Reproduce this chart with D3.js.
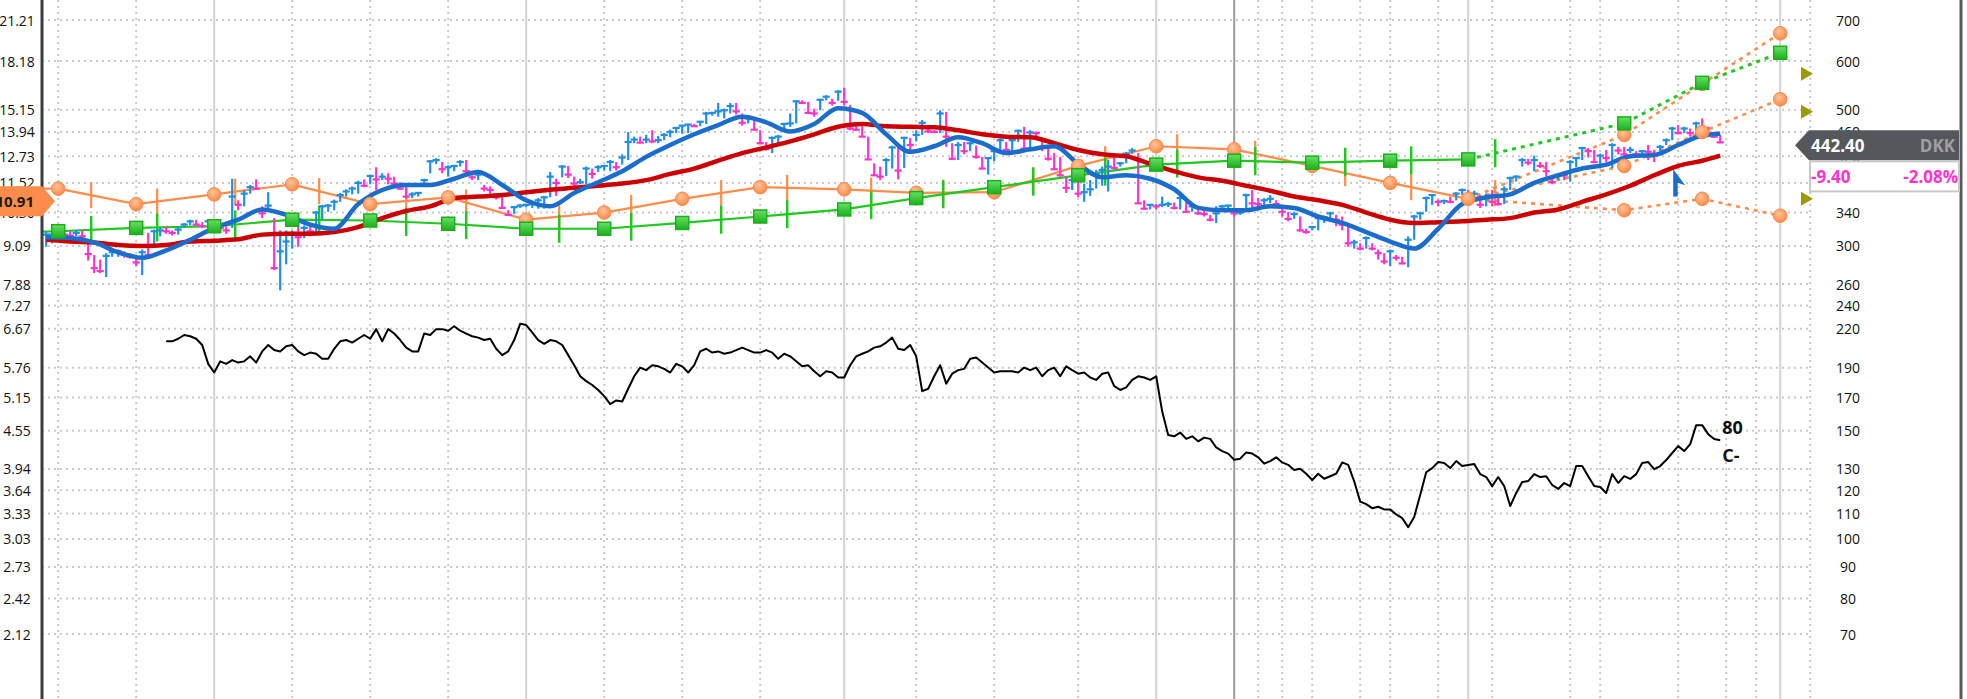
<!DOCTYPE html>
<html>
<head>
<meta charset="utf-8">
<script src="https://cdn.jsdelivr.net/npm/d3@7"></script>
<style>
  body { margin: 0; background: #fff; }
  svg { display: block; font-family: "Open Sans", "Noto Sans", sans-serif; }
</style>
</head>
<body>
<div id="chart"></div>
<script>
// weekly price chart, log scale, DKK on the right / USD on the left

const WIDTH = 1967;
const HEIGHT = 699;
const PLOT = {left: 42, right: 1812, top: 20, bottom: 634};
const WEEK_DOMAIN = [-28.7, 266.3];   // week 0 = first year line

const BLUE = "#1e8ee6", MAGENTA = "#ff33cc";
const MA_BLUE = "#1a6dcc", MA_RED = "#cc0000";
const ORANGE = "#ff8c4a", GREEN = "#1ec81e";

// ---- axis ticks ----
const rightTicks = [700, 600, 500, 460, 420, 380, 340, 300, 260, 240, 220, 190, 170, 150, 130, 120, 110, 100, 90, 80, 70];
const leftTicks = ["21.21", "18.18", "15.15", "13.94", "12.73", "11.52", "10.30", "9.09", "7.88", "7.27", "6.67",
                   "5.76", "5.15", "4.55", "3.94", "3.64", "3.33", "3.03", "2.73", "2.42", "2.12"];

// ---- time grid (week numbers) ----
const yearWeeks = [0, 52, 105, 157, 209, 261];
const dividerWeek = 170;
const minorWeeks = [-26, -13, 13, 26, 39, 65, 78, 91, 117, 130, 144, 174, 178, 183, 191, 196, 204, 213, 226, 231, 244, 252, 257, 266];

// ---- weekly bars: [low, high, close], first bar at week -28 ----
const firstBarWeek = -28;
const weeklyBars = [
  [299,316,313],[303,315,313],[309,317,314],[311,316,313],[309,317,312],[311,318,315],[307,318,311],[284,303,291],
  [271,290,276],[271,285,273],[267,292,289],[288,295,293],[288,296,294],[287,294,290],[286,292,288],[278,288,282],
  [269,296,293],[287,315,290],[299,319,317],[311,321,318],[314,323,317],[312,318,315],[313,323,319],[321,327,325],
  [324,331,329],[323,331,325],[321,328,323],[318,331,329],[319,331,330],[317,327,321],[314,323,318],[321,386,361],
  [343,356,350],[348,370,365],[365,377,374],[370,385,372],[333,348,339],[343,367,349],[274,333,276],[254,318,294],
  [280,318,305],[297,318,315],[299,323,310],[309,324,321],[311,327,317],[314,342,340],[331,350,348],[341,351,349],
  [343,357,354],[354,366,363],[361,371,368],[364,375,372],[365,383,380],[374,385,376],[378,391,390],[370,403,385],
  [384,394,389],[378,394,386],[376,389,379],[370,381,372],[358,376,361],[359,367,364],[361,367,366],[375,386,384],
  [394,414,412],[408,417,414],[394,411,400],[389,406,403],[397,406,405],[404,414,411],[389,414,397],[384,391,388],
  [384,399,392],[368,377,372],[365,375,370],[357,365,360],[345,361,346],[336,343,337],[338,348,347],[346,351,349],
  [347,351,350],[346,352,351],[345,359,356],[345,362,360],[360,396,389],[362,386,380],[388,406,404],[387,405,392],
  [376,389,379],[378,386,381],[378,404,401],[386,401,393],[396,406,403],[398,406,405],[397,414,411],[398,411,403],
  [407,423,418],[414,460,443],[441,452,447],[441,452,442],[441,455,447],[441,463,444],[441,453,446],[446,458,455],
  [451,464,460],[458,467,467],[457,472,471],[458,474,473],[469,474,470],[470,479,478],[474,496,493],[489,496,494],
  [487,513,497],[484,502,499],[493,513,507],[491,513,497],[471,493,476],[475,490,484],[463,482,464],[441,463,441],
  [429,443,432],[425,452,450],[441,455,452],[462,476,474],[469,493,475],[475,518,516],[512,518,513],[493,515,494],
  [487,502,493],[499,521,519],[518,528,525],[508,521,513],[517,538,535],[508,543,515],[463,509,466],[462,471,464],
  [452,470,452],[415,452,415],[390,409,391],[384,404,389],[390,417,414],[401,437,434],[385,440,398],[402,451,450],
  [428,450,438],[444,463,455],[455,481,476],[458,465,461],[458,463,460],[458,499,493],[435,496,452],[414,441,416],
  [414,443,438],[423,443,428],[428,443,441],[416,437,419],[400,419,401],[392,418,417],[412,430,428],[425,449,446],
  [423,443,430],[423,448,446],[443,464,462],[428,469,432],[428,463,459],[452,461,458],[428,446,435],[413,435,416],
  [399,425,400],[389,419,391],[366,389,373],[370,389,384],[360,384,365],[354,379,367],[362,384,371],[372,399,393],
  [376,404,399],[368,414,404],[399,419,402],[404,411,409],[409,427,424],[424,433,429],[352,425,352],[344,356,345],
  [344,350,350],[344,351,348],[347,361,350],[347,354,351],[344,353,346],[344,363,359],[340,358,341],[341,349,348],
  [337,343,339],[335,343,338],[329,337,331],[327,348,339],[343,350,348],[344,350,349],[335,345,339],[337,343,340],
  [343,365,363],[344,370,352],[347,359,351],[347,359,356],[352,363,358],[346,356,351],[335,348,341],[329,341,332],
  [332,341,338],[317,335,318],[314,320,316],[318,323,322],[318,335,333],[327,336,334],[329,341,339],[323,337,331],
  [318,335,325],[299,323,303],[297,307,304],[295,303,297],[297,311,309],[295,303,297],[285,296,292],[280,292,283],
  [278,296,294],[284,290,287],[280,288,281],[277,311,307],[307,337,335],[331,341,339],[341,361,359],[350,364,363],
  [348,357,354],[351,357,355],[352,361,354],[356,367,365],[363,372,370],[359,370,363],[356,369,365],[346,363,350],
  [348,365,359],[348,370,354],[349,363,351],[351,375,371],[370,389,387],[382,391,389],[404,417,414],[406,416,410],
  [397,421,414],[402,411,405],[389,411,397],[378,389,381],[384,394,392],[384,392,391],[382,414,411],[403,419,417],
  [414,435,433],[418,433,428],[409,430,411],[408,424,421],[411,430,417],[402,441,438],[423,435,429],[412,435,423],
  [425,435,430],[418,428,423],[419,430,428],[414,438,427],[411,430,421],[428,438,435],[438,449,446],[446,469,466],
  [456,472,458],[458,469,466],[452,466,458],[461,478,475],[458,484,466],[451,469,455],[450,458,451.8],[441,455,442.4]
];

// ---- moving averages, read every 4th week from week -28, last at week 251 ----
const maWeeks = d3.range(-28, 249, 4).concat([251]);
const maShort = [310,309,304,293,287,295,307,321,331,344,337,325,320,351,370,377,377,386,396,377,
                 356,348,366,381,397,419,438,456,472,487,477,461,474,503,494,456,427,436,451,441,
                 425,431,436,408,388,391,386,371,346,343,343,348,346,335,327,316,305,297,320,351,
                 360,364,380,391,401,407,420,422,438,454,457];
const maLong = [307,305,304,301,300,301,305,306,307.5,313,314,314,316,322,333,342,348,359,361,363,
                367,370.5,373,376,379,384,393,401,413,425,434,444,456,469,474,470,469,468,463,456,
                452,451,441,430,423,420,408,397,388,383,376,369,361,356,350,340,331,327,328,329,
                331,333,340,344,354,364,376,391,405,413,421];

// ---- quarterly estimate series ----
const quarterWeeks = [-39, -26, -13, 0, 13, 26, 39, 52, 65, 78, 91, 105, 117, 130, 144, 157, 170, 183, 196, 209];
const orangeVals = [372, 372, 351, 364, 378, 351, 360, 331, 340, 358, 374, 371, 366, 367, 405, 436, 431, 405, 380, 358];
const greenVals  = [315, 317, 321, 323, 331, 330, 326, 320, 320, 327, 335, 344, 359, 374, 391, 407, 413, 410, 413, 415];
const forecastWeeks = [209, 235, 248, 261];
const orangeHigh = [358, 455, 551, 666];
const orangeMean = [358, 405, 460, 520];
const orangeLow  = [358, 343, 358, 336];
const greenForecast = [415, 475, 553, 619];
const reportWeeks = [-20.5, -9.5, 3.5, 17.5, 32, 42, 57.5, 69.5, 84.5, 95.5, 109.5, 121.5, 136.5, 148.5, 160.5, 173.5, 188.5, 199.5, 213.5];
const targetPrices = [572, 496, 358];

// ---- relative strength line, weekly from week -8 ----
const rsStartWeek = -8;
const rsLine = [
  209.8,209.8,211.8,214.8,213.8,211.8,206.9,192.8,
  186.6,194.6,192.8,195.5,193.7,194.6,198.3,193.7,202,206.9,
  203,202,205.9,206.9,202,199.2,201.1,200.2,196.5,196.5,
  204,209.8,210.8,208.8,211.8,214.8,211.8,219.6,209.8,219.6,
  216,210.8,204.9,202,202,216,214.8,219.6,219.6,218.3,
  222,218.3,216,213.8,212.7,210.8,211.8,204,199.2,202,
  210.8,224,223,217,210.8,207.8,210.8,209.8,206.9,199.2,
  191.8,184,180.7,178.1,174.8,170.8,165.8,168.1,167.4,175.6,
  184,190.1,188.3,191.8,191,189.2,186.6,192.8,191,186.6,
  191.8,202,204,201.1,202,200.2,201.1,203,204.9,203,
  201.1,201.1,203,201.1,196.5,200.2,198.3,194.6,191,191.8,
  187.5,184,187.5,186.6,183.2,183.2,191.8,198.3,200.2,202,
  204.9,205.9,208.8,212.7,204,203,206.9,198.3,174,175.6,
  184,191.8,179,185.8,188.3,189.2,196.5,197.4,193.7,190.1,
  186.6,187.5,187.5,187.5,186.6,190.1,188.3,190.1,184,188.3,
  190.1,184,191,188.3,185.8,186.6,183.2,181.5,185.8,186.6,
  177.3,174.8,176.5,181.5,184,183.2,181.5,184,161.2,147.6,
  146.9,149,145.5,146.9,144.2,146.2,145.5,140.9,139,137.7,
  134.5,135.1,138.3,137.7,135.8,132.6,133.9,135.8,133.2,132,
  129.5,130.1,127.7,124.7,127.7,125.3,126.5,127.7,133.2,132,
  124.1,115,113.9,112.2,112.8,111.7,111.7,109.6,108.1,104.5,
  108.6,117.9,128.4,130.4,133.4,132.9,130.4,133.9,131.4,131.9,
  132.4,127.5,126.1,121.9,126.1,121.9,113.1,118.8,123.8,124.2,
  127.5,126.1,126.5,122.4,120.6,123.3,121.9,131.4,131.4,126.5,
  121.9,121.5,118.8,127.5,123.3,126.5,125.2,127.5,132.9,133.4,
  129.9,131.4,134.4,138,141.6,139,142.7,153.2,153.2,148.1,
  145.4,144.8
];
const rsRating = "80";
const adRating = "C-";

// ---- annotations ----
const arrowWeek = 243.5, arrowBase = 361, arrowTop = 400;
const leftTagValue = 360;
const USD_PER = 33;      // DKK per left-axis unit
const currency = "DKK";

// ---------------------------------------------------------------

const svg = d3.select("#chart")
  .append("svg")
    .attr("width", WIDTH)
    .attr("height", HEIGHT);

const x = d3.scaleLinear().domain(WEEK_DOMAIN).range([PLOT.left, PLOT.right]);
const y = d3.scaleLog().domain([700, 70]).range([PLOT.top, PLOT.bottom]);

const defs = svg.append("defs");
defs.append("clipPath").attr("id", "plotclip")
  .append("rect").attr("x", PLOT.left).attr("y", 0).attr("width", PLOT.right - PLOT.left).attr("height", HEIGHT);
const rg = defs.append("radialGradient").attr("id", "dot").attr("cx", "40%").attr("cy", "35%").attr("r", "65%");
rg.append("stop").attr("offset", "0%").attr("stop-color", "#ffc39a");
rg.append("stop").attr("offset", "100%").attr("stop-color", "#ff8a48");
const lg = defs.append("linearGradient").attr("id", "sq").attr("x1", 0).attr("y1", 0).attr("x2", 0).attr("y2", 1);
lg.append("stop").attr("offset", "0%").attr("stop-color", "#66e066");
lg.append("stop").attr("offset", "100%").attr("stop-color", "#1fae1f");

// grid
const grid = svg.append("g");
grid.selectAll(".h").data(rightTicks).enter().append("line")
  .attr("x1", PLOT.left).attr("x2", PLOT.right)
  .attr("y1", d => y(d)).attr("y2", d => y(d))
  .attr("stroke", "#c9c9c9").attr("stroke-width", 2).attr("stroke-dasharray", "2,4");
grid.selectAll(".v").data(minorWeeks).enter().append("line")
  .attr("x1", d => x(d)).attr("x2", d => x(d))
  .attr("y1", 0).attr("y2", HEIGHT)
  .attr("stroke", "#c9c9c9").attr("stroke-width", 2).attr("stroke-dasharray", "2,4");
grid.selectAll(".yr").data(yearWeeks).enter().append("line")
  .attr("x1", d => x(d)).attr("x2", d => x(d))
  .attr("y1", 0).attr("y2", HEIGHT)
  .attr("stroke", "#d3d3d3").attr("stroke-width", 2);
grid.append("line")
  .attr("x1", x(dividerWeek)).attr("x2", x(dividerWeek))
  .attr("y1", 0).attr("y2", HEIGHT)
  .attr("stroke", "#9b9b9b").attr("stroke-width", 2);

// axis labels
svg.selectAll(".rl").data(rightTicks).enter().append("text")
  .attr("x", 1848).attr("y", d => y(d))
  .attr("text-anchor", "middle").attr("dominant-baseline", "central")
  .attr("font-size", 14).attr("fill", "#111")
  .text(d => d);
svg.selectAll(".ll").data(rightTicks).enter().append("text")
  .attr("x", 17).attr("y", d => y(d))
  .attr("text-anchor", "middle").attr("dominant-baseline", "central")
  .attr("font-size", 14).attr("fill", "#111")
  .text((d, i) => leftTicks[i]);

const plotG = svg.append("g").attr("clip-path", "url(#plotclip)");

// estimate lines (solid part)
const lineFn = d3.line().x(d => x(d[0])).y(d => y(d[1]));
const orangePts = quarterWeeks.map((w, i) => [w, orangeVals[i]]);
const greenPts = quarterWeeks.map((w, i) => [w, greenVals[i]]);

plotG.append("path").datum(orangePts).attr("d", lineFn)
  .attr("fill", "none").attr("stroke", ORANGE).attr("stroke-width", 2.2);
plotG.append("path").datum(greenPts).attr("d", lineFn)
  .attr("fill", "none").attr("stroke", GREEN).attr("stroke-width", 2.2);

// forecast dotted lines
[orangeHigh, orangeMean, orangeLow].forEach(vals => {
  plotG.append("path").datum(forecastWeeks.map((w, i) => [w, vals[i]])).attr("d", lineFn)
    .attr("fill", "none").attr("stroke", ORANGE).attr("stroke-width", 2.6).attr("stroke-dasharray", "4,5");
});
plotG.append("path").datum(forecastWeeks.map((w, i) => [w, greenForecast[i]])).attr("d", lineFn)
  .attr("fill", "none").attr("stroke", GREEN).attr("stroke-width", 3).attr("stroke-dasharray", "4,5");

// report ticks, centred on each line
function yAt(weeks, vals, t) {
  for (let i = 1; i < weeks.length; i++) {
    if (t <= weeks[i]) {
      const f = (t - weeks[i - 1]) / (weeks[i] - weeks[i - 1]);
      return y(vals[i - 1]) + f * (y(vals[i]) - y(vals[i - 1]));
    }
  }
  return y(vals[vals.length - 1]);
}
const oW = quarterWeeks.concat(forecastWeeks.slice(1)), oV = orangeVals.concat(orangeMean.slice(1));
const gW = quarterWeeks.concat(forecastWeeks.slice(1)), gV = greenVals.concat(greenForecast.slice(1));
plotG.selectAll(".ot").data(reportWeeks).enter().append("line")
  .attr("x1", d => x(d)).attr("x2", d => x(d))
  .attr("y1", d => yAt(oW, oV, d) - 13).attr("y2", d => yAt(oW, oV, d) + 13)
  .attr("stroke", ORANGE).attr("stroke-width", 2.2);
plotG.selectAll(".gt").data(reportWeeks).enter().append("line")
  .attr("x1", d => x(d)).attr("x2", d => x(d))
  .attr("y1", d => yAt(gW, gV, d) - 14).attr("y2", d => yAt(gW, gV, d) + 14)
  .attr("stroke", GREEN).attr("stroke-width", 2.5);

// price bars
const barColor = (d, i) => (i === 0 || d[2] >= weeklyBars[i - 1][2]) ? BLUE : MAGENTA;
const barG = svg.append("g");
barG.selectAll(".bar").data(weeklyBars).enter().append("line")
  .attr("x1", (d, i) => x(firstBarWeek + i)).attr("x2", (d, i) => x(firstBarWeek + i))
  .attr("y1", d => y(d[1])).attr("y2", d => y(d[0]))
  .attr("stroke", barColor).attr("stroke-width", 2.2);
barG.selectAll(".cl").data(weeklyBars).enter().append("line")
  .attr("x1", (d, i) => x(firstBarWeek + i) - 3.6).attr("x2", (d, i) => x(firstBarWeek + i) + 3.6)
  .attr("y1", d => y(d[2])).attr("y2", d => y(d[2]))
  .attr("stroke", barColor).attr("stroke-width", 2.2);

// moving averages
const maLine = d3.line().curve(d3.curveMonotoneX).x(d => x(d[0])).y(d => y(d[1]));
svg.append("path").datum(maWeeks.map((w, i) => [w, maLong[i]])).attr("d", maLine)
  .attr("fill", "none").attr("stroke", MA_RED).attr("stroke-width", 4.5).attr("stroke-linejoin", "round");
svg.append("path").datum(maWeeks.map((w, i) => [w, maShort[i]])).attr("d", maLine)
  .attr("fill", "none").attr("stroke", MA_BLUE).attr("stroke-width", 4.5).attr("stroke-linejoin", "round");

// estimate markers
const dotsG = svg.append("g").attr("clip-path", "url(#plotclip)");
const orangeDots = orangePts.concat(
  forecastWeeks.slice(1).map((w, i) => [w, orangeHigh[i + 1]]),
  forecastWeeks.slice(1).map((w, i) => [w, orangeMean[i + 1]]),
  forecastWeeks.slice(1).map((w, i) => [w, orangeLow[i + 1]]));
dotsG.selectAll(".od").data(orangeDots).enter().append("circle")
  .attr("cx", d => x(d[0])).attr("cy", d => y(d[1])).attr("r", 6.8)
  .attr("fill", "url(#dot)").attr("stroke", "#f7874a").attr("stroke-width", 1);
const greenDots = greenPts.concat(forecastWeeks.slice(1).map((w, i) => [w, greenForecast[i + 1]]));
dotsG.selectAll(".gd").data(greenDots).enter().append("rect")
  .attr("x", d => x(d[0]) - 6.5).attr("y", d => y(d[1]) - 6.5)
  .attr("width", 13).attr("height", 13)
  .attr("fill", "url(#sq)").attr("stroke", "#17b217").attr("stroke-width", 1.5);

// relative strength line
const rsPts = rsLine.map((v, i) => [rsStartWeek + i, v]);
svg.append("path").datum(rsPts).attr("d", lineFn)
  .attr("fill", "none").attr("stroke", "#000").attr("stroke-width", 2).attr("stroke-linejoin", "round");
const rsEnd = rsPts[rsPts.length - 1];
svg.append("text")
  .attr("x", x(rsEnd[0]) + 2).attr("y", y(rsEnd[1]) - 13)
  .attr("dominant-baseline", "central").attr("font-size", 18).attr("font-weight", "bold").attr("fill", "#111")
  .text(rsRating);
svg.append("text")
  .attr("x", x(rsEnd[0]) + 2).attr("y", y(rsEnd[1]) + 15)
  .attr("dominant-baseline", "central").attr("font-size", 18).attr("font-weight", "bold").attr("fill", "#111")
  .text(adRating);

// buy-point arrow
const ax = x(arrowWeek) - 2, ab = y(arrowBase), at = y(arrowTop);
svg.append("polygon")
  .attr("points", [[ax, at], [ax + 12, at + 16], [ax + 4.5, at + 13.5], [ax + 4.5, ab], [ax, ab]].map(p => p.join(",")).join(" "))
  .attr("fill", MA_BLUE);

// target triangles
svg.selectAll(".tg").data(targetPrices).enter().append("polygon")
  .attr("points", d => `1801,${y(d) - 7} 1813,${y(d)} 1801,${y(d) + 7}`)
  .attr("fill", "#9c9a06");

// axis lines
svg.append("line").attr("x1", PLOT.left).attr("x2", PLOT.left).attr("y1", 0).attr("y2", HEIGHT)
  .attr("stroke", "#3a3f45").attr("stroke-width", 3);
svg.append("line").attr("x1", 1961).attr("x2", 1961).attr("y1", 0).attr("y2", HEIGHT)
  .attr("stroke", "#55585c").attr("stroke-width", 3);

// left tag
const lt = y(leftTagValue) + 4;
svg.append("polygon")
  .attr("points", `0,${lt - 15} 42,${lt - 15} 55,${lt} 42,${lt + 15} 0,${lt + 15}`)
  .attr("fill", ORANGE);
svg.append("text")
  .attr("x", 34).attr("y", lt).attr("text-anchor", "end").attr("dominant-baseline", "central")
  .attr("font-size", 15).attr("font-weight", "bold").attr("fill", "#1a1a1a")
  .text((leftTagValue / USD_PER).toFixed(2));

// last price tag
const last = weeklyBars[weeklyBars.length - 1][2];
const prev = weeklyBars[weeklyBars.length - 2][2];
const chg = last - prev, pct = chg / prev * 100;
const pc = y(last) + 3;
svg.append("polygon")
  .attr("points", `1795,${pc} 1809,${pc - 15} 1959,${pc - 15} 1959,${pc + 15} 1809,${pc + 15}`)
  .attr("fill", "#54575c");
svg.append("rect")
  .attr("x", 1810).attr("y", pc + 16).attr("width", 149).attr("height", 30)
  .attr("fill", "#fff").attr("stroke", "#c8c8c8").attr("stroke-width", 2);
svg.append("text").attr("x", 1811).attr("y", pc).attr("dominant-baseline", "central")
  .attr("font-size", 17).attr("font-weight", "bold").attr("fill", "#fff").text(last.toFixed(2));
svg.append("text").attr("x", 1955).attr("y", pc).attr("dominant-baseline", "central").attr("text-anchor", "end")
  .attr("font-size", 17).attr("font-weight", "bold").attr("fill", "#a0a0a0").text(currency);
svg.append("text").attr("x", 1811).attr("y", pc + 31).attr("dominant-baseline", "central")
  .attr("font-size", 17).attr("font-weight", "bold").attr("fill", MAGENTA).text(chg.toFixed(2));
svg.append("text").attr("x", 1958).attr("y", pc + 31).attr("dominant-baseline", "central").attr("text-anchor", "end")
  .attr("font-size", 17).attr("font-weight", "bold").attr("fill", MAGENTA).text(pct.toFixed(2) + "%");
</script>
</body>
</html>
